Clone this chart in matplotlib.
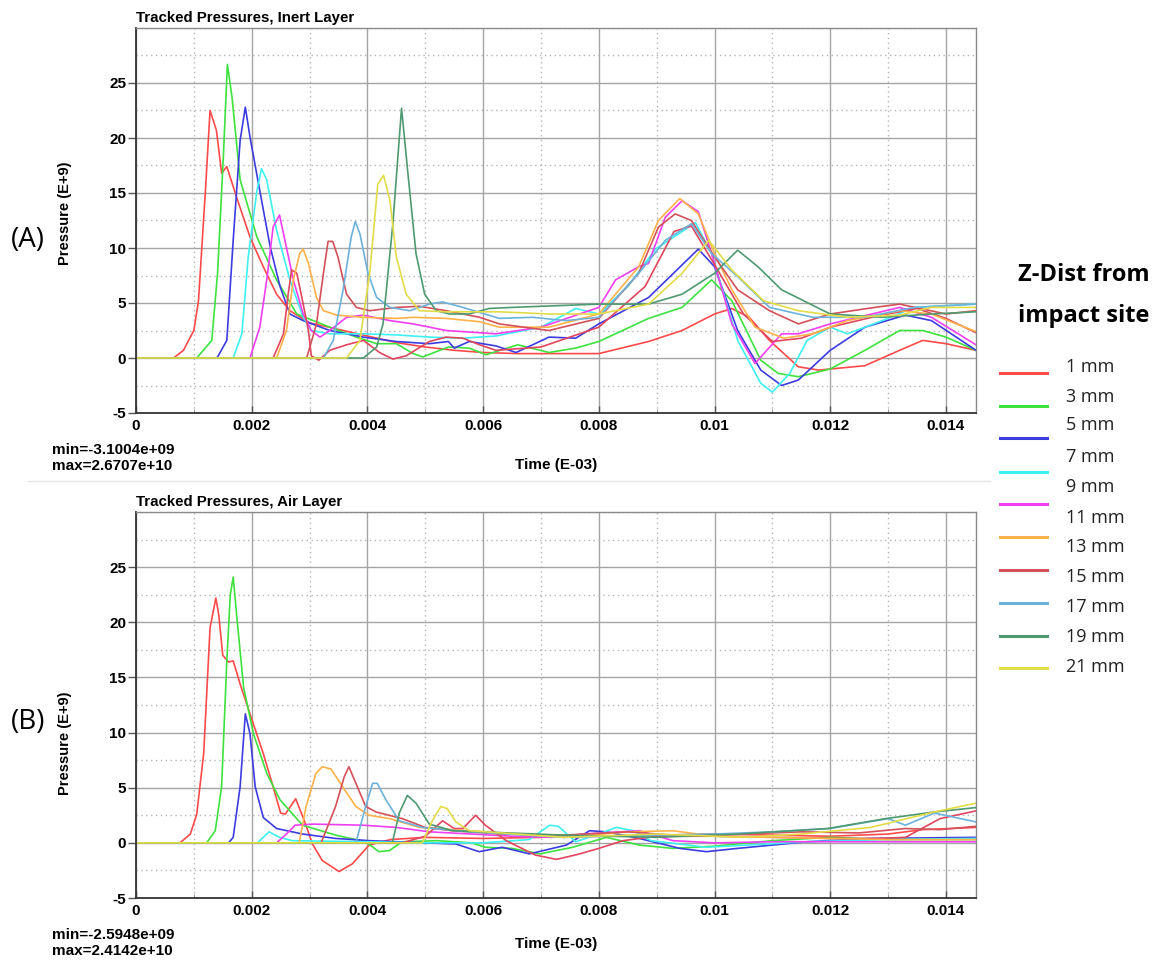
import matplotlib
matplotlib.use("Agg")
import matplotlib.pyplot as plt
import numpy as np
from matplotlib.lines import Line2D
from matplotlib.ticker import MultipleLocator

# --------------------------
# DATA  (time in units of 1e-3 of the axis value, pressure in E+9)
# --------------------------
labels = ["1 mm", "3 mm", "5 mm", "7 mm", "9 mm", "11 mm", "13 mm",
          "15 mm", "17 mm", "19 mm", "21 mm"]
colors = ["#ff4a4a", "#3ee23e", "#3c3ce0", "#3ef0f0", "#f03ef0", "#e0465e",
          "#ffb24a", "#d4505a", "#6cb2dc", "#4e9a70", "#e2dc48"]
legend_colors = ["#ff4a4a", "#3ee23e", "#3c3ce0", "#3ef0f0", "#f03ef0",
                 "#ffb24a", "#d4505a", "#6cb2dc", "#4e9a70", "#e2dc48"]

# ---- (A) Inert layer ----
i1_t = [0, 0.65, 0.82, 1.0, 1.08, 1.2, 1.28, 1.39, 1.48, 1.57, 1.74, 1.97, 2.2, 2.43, 2.66, 3.0, 3.5, 4.0, 4.5, 5.0,
        5.5, 6.0, 6.6, 7.2, 8.0, 8.86, 9.44, 10.0, 10.3, 10.6, 10.95, 11.45, 11.8, 12.6, 13.2, 13.6, 14.0, 14.52]
i1_p = [0, 0, 0.7, 2.5, 5.2, 15.2, 22.5, 20.7, 16.8, 17.4, 14.6, 11.0, 8.3, 5.8, 4.3, 3.2, 2.6, 2.0, 1.4, 1.0,
        0.7, 0.5, 0.4, 0.4, 0.4, 1.5, 2.5, 4.0, 4.5, 3.7, 1.6, -0.8, -1.1, -0.7, 0.7, 1.6, 1.3, 0.7]
i3_t = [0, 1.05, 1.31, 1.41, 1.51, 1.58, 1.66, 1.8, 2.09, 2.43, 2.78, 3.35, 3.81, 4.16, 4.5, 4.79, 4.96, 5.4, 5.76,
        6.05, 6.6, 7.14, 7.6, 8.0, 8.86, 9.44, 9.95, 10.3, 10.8, 11.1, 11.45, 12.0, 12.6, 13.2, 13.6, 14.0, 14.52]
i3_p = [0, 0, 1.6, 7.7, 18.3, 26.7, 23.7, 16.2, 11.0, 7.1, 4.0, 2.8, 1.9, 1.3, 1.3, 0.4, 0.1, 1.0, 0.9,
        0.3, 1.2, 0.5, 0.9, 1.5, 3.6, 4.6, 7.1, 5.2, -0.2, -1.4, -1.7, -1.0, 0.7, 2.5, 2.5, 1.9, 0.7]
i5_t = [0, 1.4, 1.57, 1.68, 1.8, 1.89, 1.97, 2.14, 2.32, 2.49, 2.66, 2.89, 3.35, 3.93, 4.5, 5.07, 5.4, 5.5, 5.76,
        6.22, 6.57, 7.14, 7.6, 8.0, 8.86, 9.72, 10.0, 10.4, 10.8, 11.16, 11.45, 12.0, 12.6, 13.3, 13.75, 14.52]
i5_p = [0, 0, 1.6, 10.7, 19.8, 22.8, 20.1, 15.2, 10.1, 6.5, 4.0, 3.4, 2.5, 1.9, 1.5, 1.3, 1.5, 0.9, 1.5,
        1.1, 0.5, 1.9, 1.8, 3.1, 5.5, 9.9, 8.3, 2.5, -1.1, -2.5, -2.0, 0.7, 2.8, 3.9, 3.4, 0.7]
i7_t = [0, 1.68, 1.83, 1.94, 2.09, 2.17, 2.26, 2.43, 2.66, 2.89, 3.03, 3.35, 3.93, 4.5, 5.07, 5.65, 6.22, 7.0,
        7.6, 8.0, 8.5, 8.98, 9.67, 9.95, 10.4, 10.8, 11.0, 11.3, 11.6, 12.0, 12.3, 12.9, 13.45, 14.52]
i7_p = [0, 0, 2.2, 9.2, 15.2, 17.2, 16.2, 11.6, 7.1, 3.7, 2.5, 2.2, 2.2, 2.1, 1.9, 1.8, 2.0, 2.8,
        4.5, 4.0, 6.5, 9.9, 12.3, 9.5, 1.6, -2.3, -3.1, -1.4, 1.6, 2.8, 2.2, 3.4, 4.6, 4.9]
i9_t = [0, 1.97, 2.14, 2.26, 2.37, 2.48, 2.55, 2.72, 2.89, 3.03, 3.18, 3.35, 3.64, 3.93, 4.39, 4.79, 5.36, 6.22,
        7.0, 8.0, 8.29, 8.69, 8.86, 9.15, 9.44, 9.72, 9.95, 10.3, 10.7, 11.16, 11.45, 12.0, 13.2, 13.75, 14.52]
i9_p = [0, 0, 2.8, 7.1, 11.9, 13.0, 11.3, 7.1, 4.0, 2.5, 1.9, 2.5, 3.7, 3.9, 3.4, 3.1, 2.5, 2.2,
        2.8, 4.6, 7.1, 8.3, 8.6, 12.8, 14.3, 13.3, 9.5, 3.1, -0.5, 2.2, 2.2, 3.1, 4.6, 3.7, 1.2]
i11_t = [0, 2.37, 2.55, 2.63, 2.69, 2.78, 2.89, 2.98, 3.03, 3.16, 3.35, 3.64, 3.93, 4.21, 4.44, 4.67, 5.07, 5.36,
         5.65, 5.94, 6.22, 7.0, 8.0, 8.8, 9.3, 9.6, 10.0, 10.5, 11.0, 11.5, 12.0, 12.8, 13.5, 14.0, 14.52]
i11_p = [0, 0, 2.2, 5.8, 8.0, 7.7, 4.9, 2.5, 0.2, -0.2, 0.7, 1.2, 1.6, 0.5, -0.1, 0.2, 1.5, 1.9,
         1.8, 1.2, 0.7, 1.0, 2.8, 6.5, 11.5, 12.0, 8.5, 4.0, 1.5, 1.8, 2.8, 3.8, 4.5, 3.6, 2.3]
i13_t = [0, 2.43, 2.6, 2.72, 2.83, 2.89, 2.98, 3.12, 3.24, 3.47, 3.93, 4.5, 4.79, 5.36, 5.94, 6.28, 7.14, 8.0,
         8.69, 9.03, 9.4, 9.72, 10.0, 10.3, 10.7, 11.2, 11.7, 12.3, 13.2, 13.75, 14.52]
i13_p = [0, 0, 2.5, 7.1, 9.5, 9.9, 8.6, 5.5, 4.3, 3.9, 3.7, 3.6, 3.7, 3.6, 3.3, 2.8, 2.8, 4.0,
         8.3, 12.5, 14.5, 13.1, 9.5, 6.2, 2.8, 1.8, 2.2, 3.4, 4.3, 4.0, 2.4]
i15_t = [0, 2.95, 3.12, 3.24, 3.32, 3.4, 3.49, 3.64, 3.81, 4.04, 4.5, 4.9, 5.36, 5.94, 6.28, 7.14, 8.0, 8.69,
         9.03, 9.32, 9.6, 10.0, 10.4, 10.95, 11.45, 12.0, 12.77, 13.2, 14.0, 14.52]
i15_p = [0, 0, 3.1, 7.7, 10.6, 10.6, 9.2, 5.8, 4.6, 4.3, 4.6, 4.7, 4.3, 3.7, 3.1, 2.5, 3.6, 7.7,
         11.9, 13.1, 12.5, 9.2, 6.2, 4.3, 3.1, 4.0, 4.6, 4.9, 4.0, 4.3]
i17_t = [0, 3.24, 3.41, 3.58, 3.72, 3.79, 3.87, 4.01, 4.16, 4.39, 4.73, 5.07, 5.3, 5.65, 6.28, 6.86, 7.43, 8.0,
         8.69, 9.15, 9.6, 9.95, 10.4, 10.95, 11.7, 12.6, 13.45, 14.52]
i17_p = [0, 0, 1.6, 6.2, 11.0, 12.4, 11.3, 7.7, 5.5, 4.6, 4.3, 4.9, 5.1, 4.6, 3.6, 3.7, 3.4, 3.7,
         7.7, 10.7, 12.2, 9.5, 7.4, 4.6, 3.7, 3.7, 4.6, 4.9]
i19_t = [0, 3.93, 4.16, 4.27, 4.44, 4.59, 4.7, 4.84, 4.99, 5.19, 5.42, 5.76, 6.1, 6.5, 7.0, 8.0, 8.86, 9.44,
         10.0, 10.4, 10.75, 11.16, 12.0, 12.9, 13.75, 14.52]
i19_p = [0, 0, 1.0, 3.1, 12.2, 22.7, 16.8, 9.5, 5.8, 4.3, 4.0, 4.0, 4.5, 4.6, 4.7, 4.9, 4.9, 5.8,
         7.7, 9.8, 8.3, 6.2, 4.0, 3.7, 4.0, 4.2]
i21_t = [0, 3.64, 3.87, 4.04, 4.18, 4.28, 4.39, 4.5, 4.67, 4.9, 5.36, 6.28, 7.14, 8.0, 8.86, 9.44, 9.9, 10.3,
         10.85, 11.45, 12.3, 13.2, 13.75, 14.52]
i21_p = [0, 0, 1.6, 7.7, 15.8, 16.6, 14.3, 9.2, 5.8, 4.3, 4.2, 4.2, 4.0, 4.0, 4.9, 7.7, 10.7, 8.0,
         5.2, 4.3, 3.7, 3.9, 4.6, 4.6]

# ---- (B) Air layer ----
a1_t = [0, 0.76, 0.94, 1.05, 1.17, 1.28, 1.38, 1.43, 1.5, 1.6, 1.68, 1.8, 1.97, 2.2, 2.37, 2.5, 2.58, 2.76, 2.91,
        3.05, 3.22, 3.51, 3.74, 4.03, 4.4, 5.0, 6.0, 7.0, 8.0, 9.0, 10.0, 11.0, 12.0, 13.0, 13.6, 14.52]
a1_p = [0, 0, 0.8, 2.6, 8.1, 19.5, 22.2, 20.7, 17.0, 16.4, 16.5, 14.4, 11.7, 8.1, 5.1, 2.7, 2.6, 4.0, 2.0,
        -0.1, -1.6, -2.6, -1.9, -0.2, 0.3, 0.5, 0.4, 0.5, 0.6, 0.7, 0.8, 0.7, 0.6, 0.8, 1.2, 1.4]
a3_t = [0, 1.22, 1.37, 1.48, 1.57, 1.63, 1.68, 1.75, 1.86, 2.03, 2.26, 2.49, 2.88, 3.45, 3.97, 4.2, 4.38, 4.6,
        5.2, 5.8, 6.04, 6.5, 6.98, 7.55, 8.13, 8.7, 9.28, 10.0, 11.0, 12.0, 13.0, 14.52]
a3_p = [0, 0, 1.1, 5.1, 16.5, 22.5, 24.1, 20.1, 14.1, 9.9, 6.3, 3.9, 1.6, 0.7, 0.1, -0.8, -0.7, 0.1,
        0.2, 0.0, -0.4, -0.5, -1.0, -0.4, 0.5, -0.2, -0.5, -0.3, 0.2, 0.5, 0.3, 0.3]
a5_t = [0, 1.6, 1.68, 1.8, 1.89, 1.97, 2.06, 2.2, 2.43, 2.88, 3.45, 4.03, 5.0, 5.53, 5.93, 6.33, 6.8, 7.44,
        7.84, 8.13, 8.7, 9.4, 9.86, 10.4, 11.6, 12.7, 14.52]
a5_p = [0, 0, 0.5, 5.1, 11.7, 9.9, 5.1, 2.3, 1.3, 0.8, 0.4, 0.2, 0.0, -0.1, -0.8, -0.4, -1.0, -0.2,
        1.1, 1.0, 0.4, -0.5, -0.8, -0.5, 0.1, 0.4, 0.5]
a7_t = [0, 2.1, 2.3, 2.48, 2.7, 4.0, 5.0, 6.0, 6.8, 7.15, 7.3, 7.6, 8.0, 8.3, 8.6, 8.9, 9.86, 11.6, 13.0, 14.52]
a7_p = [0, 0, 1.0, 0.5, 0.2, 0.1, 0.0, 0.0, 0.3, 1.6, 1.5, 0.1, 0.8, 1.4, 1.1, 0.2, -0.4, 0.1, 0.3, 0.4]
a9_t = [0, 2.43, 2.6, 2.75, 3.06, 3.93, 4.5, 5.07, 5.8, 6.5, 7.2, 7.73, 8.7, 9.28, 10.0, 11.0, 12.0, 13.0, 14.52]
a9_p = [0, 0, 0.8, 1.6, 1.7, 1.6, 1.4, 1.0, 0.8, 0.6, 0.5, 0.8, 1.1, 0.2, 0.0, 0.1, 0.1, 0.1, 0.1]
a11_t = [0, 4.6, 5.0, 5.3, 5.5, 5.65, 5.87, 6.04, 6.4, 6.9, 7.27, 7.67, 8.0, 8.42, 9.0, 10.0, 11.0, 12.0,
         12.8, 13.3, 13.9, 14.52]
a11_p = [0, 0, 0.6, 2.0, 1.3, 1.3, 2.5, 1.6, 0.2, -1.1, -1.5, -1.0, -0.5, 0.2, 0.6, 0.6, 0.5, 0.4,
         0.4, 0.5, 2.2, 2.9]
a13_t = [0, 2.82, 2.94, 3.11, 3.22, 3.37, 3.57, 3.8, 4.03, 4.38, 4.9, 5.76, 7.4, 8.5, 9.28, 10.0, 11.0, 12.0,
         13.0, 14.52]
a13_p = [0, 0, 3.3, 6.3, 6.9, 6.7, 5.1, 3.3, 2.5, 2.2, 1.4, 1.1, 0.5, 1.0, 1.1, 0.6, 0.5, 0.4, 0.3, 0.3]
a15_t = [0, 3.2, 3.45, 3.6, 3.68, 3.97, 4.15, 4.6, 5.0, 5.47, 6.33, 7.4, 8.5, 9.5, 10.5, 11.5, 12.5, 13.3,
         13.9, 14.52]
a15_p = [0, 0, 3.3, 6.0, 6.9, 3.3, 2.8, 2.2, 1.4, 1.1, 0.8, 0.7, 1.0, 0.6, 0.8, 1.0, 0.9, 1.3, 1.2, 1.5]
a17_t = [0, 3.8, 3.97, 4.09, 4.17, 4.32, 4.55, 4.95, 5.76, 7.4, 9.0, 10.0, 11.0, 12.0, 13.0, 13.3, 13.8, 14.52]
a17_p = [0, 0, 3.3, 5.4, 5.4, 3.9, 2.0, 1.4, 1.0, 0.5, 0.7, 0.8, 1.0, 1.3, 2.2, 1.6, 2.7, 1.9]
a19_t = [0, 4.43, 4.55, 4.69, 4.84, 5.07, 5.47, 7.4, 9.0, 10.4, 11.96, 12.96, 13.8, 14.52]
a19_p = [0, 0, 2.7, 4.3, 3.6, 1.7, 1.1, 0.7, 0.5, 0.8, 1.3, 2.2, 2.8, 3.2]
a21_t = [0, 4.95, 5.12, 5.27, 5.38, 5.53, 5.76, 7.4, 9.0, 10.5, 11.5, 12.7, 13.8, 14.52]
a21_p = [0, 0, 2.0, 3.3, 3.1, 1.9, 1.1, 0.5, 0.8, 0.5, 0.8, 1.4, 2.8, 3.6]

inert_t = [i1_t, i3_t, i5_t, i7_t, i9_t, i11_t, i13_t, i15_t, i17_t, i19_t, i21_t]
inert_p = [i1_p, i3_p, i5_p, i7_p, i9_p, i11_p, i13_p, i15_p, i17_p, i19_p, i21_p]
air_t = [a1_t, a3_t, a5_t, a7_t, a9_t, a11_t, a13_t, a15_t, a17_t, a19_t, a21_t]
air_p = [a1_p, a3_p, a5_p, a7_p, a9_p, a11_p, a13_p, a15_p, a17_p, a19_p, a21_p]

x_ticks = [0, 0.002, 0.004, 0.006, 0.008, 0.01, 0.012, 0.014]
x_tick_labels = ["0", "0.002", "0.004", "0.006", "0.008", "0.01", "0.012", "0.014"]
y_ticks = [-5, 0, 5, 10, 15, 20, 25]

# --------------------------
# FIGURE
# --------------------------
W, H = 1169, 960
plt.rcParams['font.family'] = ['Liberation Sans', 'DejaVu Sans']
plt.rcParams['axes.unicode_minus'] = False
fig = plt.figure(figsize=(W / 100, H / 100), dpi=100)


def fx(px):
    return px / W


def fy(py):
    return 1 - py / H


def style_axes(ax, title, ylabel_y):
    ax.set_xlim(0, 0.01452)
    ax.set_ylim(-5, 30)
    ax.set_xticks(x_ticks)
    ax.set_xticklabels(x_tick_labels)
    ax.set_yticks(y_ticks)
    ax.xaxis.set_minor_locator(MultipleLocator(0.001))
    ax.yaxis.set_minor_locator(MultipleLocator(2.5))
    ax.grid(which='major', color='#a4a4a4', linewidth=1.0, linestyle='-')
    ax.grid(which='minor', color='#b4b4b4', linewidth=1.0, linestyle=(0, (1, 2.5)))
    ax.set_axisbelow(True)
    ax.tick_params(axis='y', which='major', direction='out', length=6, width=1,
                   color='#555555', labelsize=11, pad=1)
    ax.tick_params(axis='y', which='minor', length=0)
    ax.tick_params(axis='x', which='major', direction='in', length=5, width=1,
                   color='#555555', labelsize=11, pad=4)
    ax.tick_params(axis='x', which='minor', direction='in', length=3, color='#888888')
    for lab in ax.get_xticklabels() + ax.get_yticklabels():
        lab.set_fontweight('bold')
    for side in ['left', 'bottom']:
        ax.spines[side].set_color('#333333')
        ax.spines[side].set_linewidth(1.3)
    for side in ['top', 'right']:
        ax.spines[side].set_color('#8a8a8a')
        ax.spines[side].set_linewidth(1.0)
    ax.set_title(title, loc='left', fontsize=10.8, fontweight='bold', pad=4)
    ax.set_ylabel("Pressure (E+9)", fontsize=10.5, fontweight='bold')
    ax.yaxis.set_label_coords(-0.076, ylabel_y)


ax1 = fig.add_axes([fx(136), fy(413), fx(840), 385 / H])
ax2 = fig.add_axes([fx(136), fy(898), fx(840), 386 / H])

for t, p, c in zip(inert_t, inert_p, colors):
    ax1.plot(np.array(t) / 1000, p, color=c, linewidth=1.2)
for t, p, c in zip(air_t, air_p, colors):
    ax2.plot(np.array(t) / 1000, p, color=c, linewidth=1.2)

style_axes(ax1, "Tracked Pressures, Inert Layer", 0.52)
style_axes(ax2, "Tracked Pressures, Air Layer", 0.40)
ax1.set_xlabel("Time (E-03)", fontsize=11, fontweight='bold', labelpad=18)
ax2.set_xlabel("Time (E-03)", fontsize=11, fontweight='bold', labelpad=14)

# min / max annotations
fig.text(fx(52), fy(450), "min=-3.1004e+09", fontsize=11, fontweight='bold', va='center')
fig.text(fx(52), fy(466), "max=2.6707e+10", fontsize=11, fontweight='bold', va='center')
fig.text(fx(52), fy(935), "min=-2.5948e+09", fontsize=11, fontweight='bold', va='center')
fig.text(fx(52), fy(951), "max=2.4142e+10", fontsize=11, fontweight='bold', va='center')

# faint separator between the two panels
fig.add_artist(Line2D([fx(28), fx(990)], [fy(481), fy(481)], color='#e4e4e4', linewidth=1))

# panel letters
fig.text(fx(28), fy(240), "(A)", fontsize=20, family='Open Sans', ha='center', va='center')
fig.text(fx(28), fy(722), "(B)", fontsize=20, family='Open Sans', ha='center', va='center')

# legend (drawn by hand, as in the reference)
fig.text(fx(1084), fy(275), "Z-Dist from", fontsize=17, family='Open Sans', fontweight='bold',
         ha='center', va='center')
fig.text(fx(1084), fy(316), "impact site", fontsize=17, family='Open Sans', fontweight='bold',
         ha='center', va='center')
line_y = [373, 406, 438, 472, 504, 537, 570, 603, 636, 668]
label_y = [367, 397, 425, 457, 487, 518, 547, 577, 607, 637, 667]
for yy, c in zip(line_y, legend_colors):
    fig.add_artist(Line2D([fx(1000), fx(1047)], [fy(yy), fy(yy)], color=c, linewidth=2.2))
for yy, lab in zip(label_y, labels):
    fig.text(fx(1066), fy(yy), lab, fontsize=13, family='Open Sans', color='#222222',
             ha='left', va='center')

fig.savefig("out.png", dpi=100, facecolor='white')
